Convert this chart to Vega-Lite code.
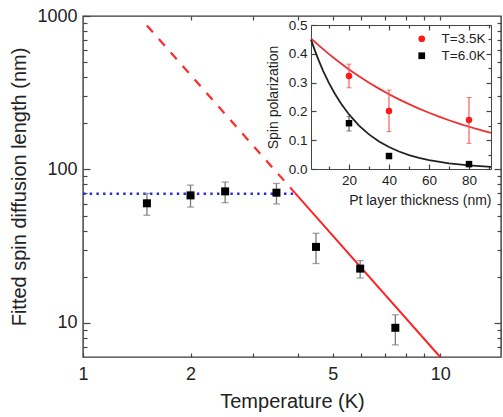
{
  "$schema": "https://vega.github.io/schema/vega-lite/v6.json",
  "width": 418,
  "height": 341,
  "autosize": {"type": "none"},
  "padding": {"left": 83, "top": 16, "right": 2, "bottom": 60},
  "background": "white",
  "config": {
    "view": {"stroke": "#3a3a3a", "strokeWidth": 1.4},
    "font": "Liberation Sans",
    "axis": {
      "grid": false,
      "labelFont": "Liberation Sans",
      "titleFont": "Liberation Sans",
      "labelColor": "#222222",
      "titleColor": "#222222",
      "tickColor": "#444444",
      "domainColor": "#444444",
      "titleFontWeight": "normal",
      "labelFlush": false,
      "labelOverlap": false,
      "tickWidth": 1.2
    }
  },
  "datasets": {
    "mainpts": [
      {"T": 1.51, "L": 60.2, "lo": 50.3, "hi": 69.8},
      {"T": 2.0, "L": 67.8, "lo": 56.9, "hi": 79.1},
      {"T": 2.5, "L": 72.0, "lo": 60.8, "hi": 82.8},
      {"T": 3.48, "L": 70.6, "lo": 59.6, "hi": 81.1},
      {"T": 4.49, "L": 31.3, "lo": 24.4, "hi": 38.4},
      {"T": 5.97, "L": 22.6, "lo": 19.6, "hi": 25.5},
      {"T": 7.49, "L": 9.3, "lo": 7.2, "hi": 11.3}
    ],
    "blueline": [
      {"T": 1.0, "L": 69.5},
      {"T": 3.92, "L": 69.5}
    ],
    "reddash": [
      {"T": 1.51, "L": 866},
      {"T": 3.92, "L": 70.4}
    ],
    "redsolid": [
      {"T": 3.92, "L": 70.4},
      {"T": 10.0, "L": 6.0}
    ],
    "insetpts": [
      {"d": 20, "p": 0.323, "lo": 0.282, "hi": 0.364, "s": "T=3.5K"},
      {"d": 40, "p": 0.201, "lo": 0.130, "hi": 0.274, "s": "T=3.5K"},
      {"d": 80, "p": 0.170, "lo": 0.089, "hi": 0.248, "s": "T=3.5K"},
      {"d": 20, "p": 0.159, "lo": 0.132, "hi": 0.182, "s": "T=6.0K"},
      {"d": 40, "p": 0.045, "lo": 0.040, "hi": 0.050, "s": "T=6.0K"},
      {"d": 80, "p": 0.017, "lo": 0.013, "hi": 0.021, "s": "T=6.0K"}
    ],
    "curve35": [
      {"d": 1, "p": 0.4535}, {"d": 5, "p": 0.4283}, {"d": 10, "p": 0.3988},
      {"d": 15, "p": 0.3713}, {"d": 20, "p": 0.3457}, {"d": 25, "p": 0.3219},
      {"d": 30, "p": 0.2997}, {"d": 35, "p": 0.2790}, {"d": 40, "p": 0.2598},
      {"d": 45, "p": 0.2419}, {"d": 50, "p": 0.2252}, {"d": 55, "p": 0.2097},
      {"d": 60, "p": 0.1952}, {"d": 65, "p": 0.1818}, {"d": 70, "p": 0.1692},
      {"d": 75, "p": 0.1576}, {"d": 80, "p": 0.1467}, {"d": 85, "p": 0.1366},
      {"d": 91, "p": 0.1254}
    ],
    "curve60": [
      {"d": 1, "p": 0.4491}, {"d": 3, "p": 0.4101}, {"d": 5, "p": 0.3744},
      {"d": 7, "p": 0.3419}, {"d": 10, "p": 0.2983}, {"d": 13, "p": 0.2603},
      {"d": 16, "p": 0.2271}, {"d": 20, "p": 0.1894}, {"d": 25, "p": 0.1508},
      {"d": 30, "p": 0.1201}, {"d": 35, "p": 0.0957}, {"d": 40, "p": 0.0762},
      {"d": 45, "p": 0.0608}, {"d": 50, "p": 0.0484}, {"d": 55, "p": 0.0386},
      {"d": 60, "p": 0.0307}, {"d": 70, "p": 0.0195}, {"d": 80, "p": 0.0124},
      {"d": 91, "p": 0.0075}
    ]
  },
  "layer": [
    {
      "layer": [
        {
          "data": {"name": "blueline"},
          "mark": {"type": "line", "color": "#2b2bd8", "strokeWidth": 2.6, "strokeDash": [2.4, 4.3]},
          "encoding": {
            "x": {
              "field": "T", "type": "quantitative", "title": "Temperature (K)",
              "scale": {"type": "log", "domain": [1, 14.8], "nice": false},
              "axis": {
                "values": [1, 2, 3, 4, 5, 6, 7, 8, 9, 10],
                "labelExpr": "indexof([1, 2, 5, 10], datum.value) >= 0 ? '' + datum.value : ''",
                "tickSize": -4,
                "labelPadding": 12,
                "domain": false,
                "labelFontSize": 18,
                "title": "Temperature (K)",
                "titleFontSize": 20,
                "titlePadding": 8
              }
            },
            "y": {
              "field": "L", "type": "quantitative", "title": "Fitted spin diffusion length (nm)",
              "scale": {"type": "log", "domain": [6, 1000], "nice": false},
              "axis": {
                "values": [7, 8, 9, 10, 20, 30, 40, 50, 60, 70, 80, 90, 100, 200, 300, 400, 500, 600, 700, 800, 900, 1000],
                "labelExpr": "indexof([10, 100, 1000], datum.value) >= 0 ? '' + datum.value : ''",
                "tickSize": {"condition": {"test": "indexof([10, 100, 1000], datum.value) >= 0", "value": -7}, "value": -4},
                "labelPadding": 13,
                "domain": false,
                "labelFontSize": 18,
                "title": "Fitted spin diffusion length (nm)",
                "titleFontSize": 20,
                "titlePadding": 7
              }
            }
          }
        },
        {
          "data": {"name": "reddash"},
          "mark": {"type": "line", "color": "#ff2a2a", "strokeWidth": 2.2, "strokeDash": [9, 9]},
          "encoding": {
            "x": {"field": "T", "type": "quantitative", "title": "Temperature (K)"},
            "y": {"field": "L", "type": "quantitative", "title": "Fitted spin diffusion length (nm)"}
          }
        },
        {
          "data": {"name": "redsolid"},
          "mark": {"type": "line", "color": "#ff2020", "strokeWidth": 1.9},
          "encoding": {
            "x": {"field": "T", "type": "quantitative", "title": "Temperature (K)"},
            "y": {"field": "L", "type": "quantitative", "title": "Fitted spin diffusion length (nm)"}
          }
        },
        {
          "data": {"name": "mainpts"},
          "mark": {"type": "errorbar", "ticks": {"size": 7}, "color": "#7a7a7a", "thickness": 1.3},
          "encoding": {
            "x": {"field": "T", "type": "quantitative", "title": "Temperature (K)"},
            "y": {"field": "lo", "type": "quantitative", "title": "Fitted spin diffusion length (nm)"},
            "y2": {"field": "hi"}
          }
        },
        {
          "data": {"name": "mainpts"},
          "mark": {"type": "point", "shape": "square", "filled": true, "color": "#000000", "size": 64, "opacity": 1},
          "encoding": {
            "x": {"field": "T", "type": "quantitative", "title": "Temperature (K)"},
            "y": {"field": "L", "type": "quantitative", "title": "Fitted spin diffusion length (nm)"}
          }
        }
      ]
    },
    {
      "data": {"name": "mainpts"},
      "mark": {"type": "point", "opacity": 0},
      "encoding": {
        "x": {
          "field": "T", "type": "quantitative",
          "scale": {"type": "log", "domain": [1, 14.8], "nice": false},
          "axis": {"orient": "top", "values": [2, 3, 4, 5, 6, 7, 8, 9, 10], "labels": false, "tickSize": -4, "domain": false, "title": null}
        },
        "y": {
          "field": "L", "type": "quantitative",
          "scale": {"type": "log", "domain": [6, 1000], "nice": false},
          "axis": {
            "orient": "right",
            "values": [7, 8, 9, 10, 20, 30, 40, 50, 60, 70, 80, 90, 100, 200, 300, 400, 500, 600, 700, 800, 900],
            "labels": false,
            "tickSize": {"condition": {"test": "indexof([10, 100, 1000], datum.value) >= 0", "value": -7}, "value": -4},
            "domain": false,
            "title": null
          }
        }
      }
    },
    {
      "layer": [
        {
          "data": {"name": "curve35"},
          "mark": {"type": "line", "color": "#ee3030", "strokeWidth": 1.8},
          "encoding": {
            "x": {
              "field": "d", "type": "quantitative", "title": "Pt layer thickness (nm)",
              "scale": {"domain": [1, 91], "range": [228, 408], "nice": false, "zero": false},
              "axis": {
                "orient": "bottom",
                "offset": -188,
                "values": [10, 20, 30, 40, 50, 60, 70, 80, 90],
                "labelExpr": "datum.value % 20 == 0 ? datum.label : ''",
                "tickSize": {"condition": {"test": "datum.value % 20 == 0", "value": -5}, "value": -3},
                "labelPadding": 9,
                "labelFontSize": 13.5,
                "title": "Pt layer thickness (nm)",
                "titleFontSize": 14,
                "titleAnchor": "end",
                "titlePadding": 5
              }
            },
            "y": {
              "field": "p", "type": "quantitative", "title": "Spin polarization",
              "scale": {"domain": [0, 0.5], "range": [153, 9], "nice": false, "zero": false},
              "axis": {
                "orient": "left",
                "offset": -228,
                "values": [0, 0.05, 0.1, 0.15, 0.2, 0.25, 0.3, 0.35, 0.4, 0.45, 0.5],
                "format": ".1f",
                "labelExpr": "round(datum.value * 100) % 10 == 0 ? datum.label : ''",
                "tickSize": {"condition": {"test": "round(datum.value * 100) % 10 == 0", "value": -5}, "value": -3},
                "labelPadding": 9,
                "labelFontSize": 13.5,
                "title": "Spin polarization",
                "titleFontSize": 14,
                "titlePadding": 8
              }
            }
          }
        },
        {
          "data": {"name": "curve60"},
          "mark": {"type": "line", "color": "#222222", "strokeWidth": 1.8},
          "encoding": {
            "x": {"field": "d", "type": "quantitative", "title": "Pt layer thickness (nm)"},
            "y": {"field": "p", "type": "quantitative", "title": "Spin polarization"}
          }
        },
        {
          "data": {"name": "insetpts"},
          "transform": [{"filter": "datum.s == 'T=3.5K'"}],
          "mark": {"type": "errorbar", "ticks": {"size": 5}, "color": "#f05050", "thickness": 1.1},
          "encoding": {
            "x": {"field": "d", "type": "quantitative", "title": "Pt layer thickness (nm)"},
            "y": {"field": "lo", "type": "quantitative", "title": "Spin polarization"},
            "y2": {"field": "hi"}
          }
        },
        {
          "data": {"name": "insetpts"},
          "transform": [{"filter": "datum.s == 'T=6.0K'"}],
          "mark": {"type": "errorbar", "ticks": {"size": 5}, "color": "#555555", "thickness": 1.1},
          "encoding": {
            "x": {"field": "d", "type": "quantitative", "title": "Pt layer thickness (nm)"},
            "y": {"field": "lo", "type": "quantitative", "title": "Spin polarization"},
            "y2": {"field": "hi"}
          }
        },
        {
          "data": {"name": "insetpts"},
          "mark": {"type": "point", "filled": true, "size": 42, "opacity": 1},
          "encoding": {
            "x": {"field": "d", "type": "quantitative", "title": "Pt layer thickness (nm)"},
            "y": {"field": "p", "type": "quantitative", "title": "Spin polarization"},
            "color": {
              "field": "s", "type": "nominal",
              "scale": {"domain": ["T=3.5K", "T=6.0K"], "range": ["#ff1a1a", "#000000"]},
              "legend": {
                "orient": "none", "legendX": 332, "legendY": 16, "title": null,
                "labelFontSize": 13.5, "labelFont": "Liberation Sans", "labelColor": "#222222",
                "symbolSize": 45, "labelOffset": 13, "rowPadding": 2, "padding": 0
              }
            },
            "shape": {
              "field": "s", "type": "nominal",
              "scale": {"domain": ["T=3.5K", "T=6.0K"], "range": ["circle", "square"]}
            }
          }
        }
      ]
    },
    {
      "data": {"name": "insetpts"},
      "mark": {"type": "point", "opacity": 0},
      "encoding": {
        "x": {
          "field": "d", "type": "quantitative",
          "scale": {"domain": [1, 91], "range": [228, 408], "nice": false, "zero": false},
          "axis": {
            "orient": "top", "offset": -9,
            "values": [10, 20, 30, 40, 50, 60, 70, 80, 90],
            "labels": false,
            "tickSize": {"condition": {"test": "datum.value % 20 == 0", "value": -5}, "value": -3},
            "title": null
          }
        },
        "y": {
          "field": "p", "type": "quantitative",
          "scale": {"domain": [0, 0.5], "range": [153, 9], "nice": false, "zero": false},
          "axis": {
            "orient": "right", "offset": -10,
            "values": [0, 0.05, 0.1, 0.15, 0.2, 0.25, 0.3, 0.35, 0.4, 0.45, 0.5],
            "labels": false,
            "tickSize": {"condition": {"test": "round(datum.value * 100) % 10 == 0", "value": -5}, "value": -3},
            "title": null
          }
        }
      }
    }
  ],
  "resolve": {"scale": {"x": "independent", "y": "independent"}}
}
